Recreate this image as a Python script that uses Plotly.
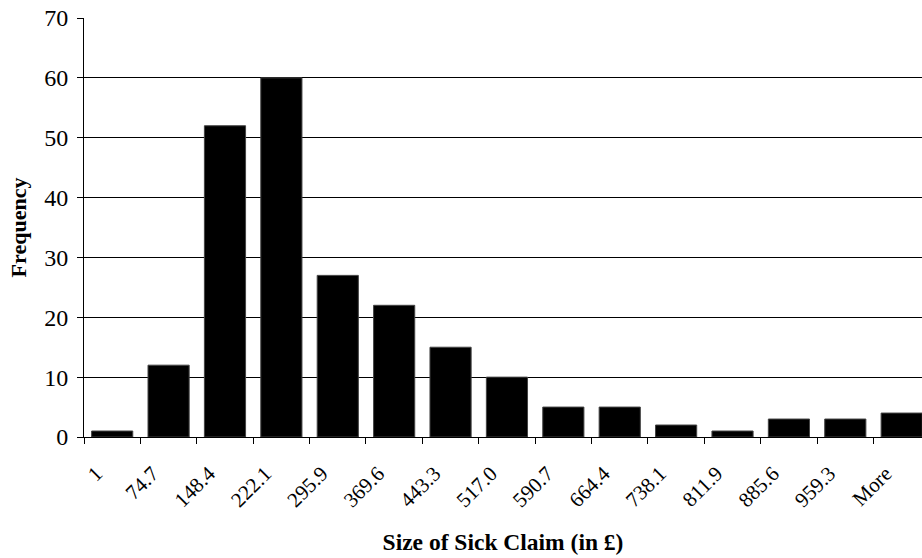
import plotly.graph_objects as go

categories = ["1", "74.7", "148.4", "222.1", "295.9", "369.6", "443.3", "517.0",
              "590.7", "664.4", "738.1", "811.9", "885.6", "959.3", "More"]
frequency = [1, 12, 52, 60, 27, 22, 15, 10, 5, 5, 2, 1, 3, 3, 4]

font_family = "Liberation Serif, Times New Roman, serif"

fig = go.Figure(go.Bar(
    x=categories, y=frequency,
    marker=dict(color="black", line=dict(color="#444", width=1)),
    hoverinfo="skip",
))

fig.update_layout(
    width=922, height=558,
    margin=dict(l=84, r=0, t=18, b=121, autoexpand=False),
    paper_bgcolor="white", plot_bgcolor="white",
    bargap=0.27,
    showlegend=False,
    font=dict(family=font_family, color="black", size=21),
    xaxis=dict(
        type="category",
        range=[-0.5, 14.36],
        tickangle=-45,
        tickson="boundaries",
        ticks="outside", ticklen=6, tickcolor="black",
        showline=True, linecolor="black", linewidth=1,
        showgrid=False,
        tickfont=dict(size=21),
        ticklabelstandoff=15,
        ticklabelshift=-16,
        automargin=False,
        title=dict(text="<b>Size of Sick Claim (in £)</b>", font=dict(size=23.5), standoff=22),
    ),
    yaxis=dict(
        range=[0, 70], dtick=10,
        ticks="outside", ticklen=6, tickcolor="black",
        showline=True, linecolor="black", linewidth=1,
        showgrid=True, gridcolor="black", gridwidth=1,
        zeroline=False,
        tickfont=dict(size=24),
        ticklabelstandoff=4,
        ticklabeloverflow="allow",
        automargin=False,
        title=dict(text="<b>Frequency</b>", font=dict(size=22), standoff=11),
    ),
)

fig.write_html("out.html", config={"displayModeBar": False},
               post_script="document.body.style.margin='0';")
